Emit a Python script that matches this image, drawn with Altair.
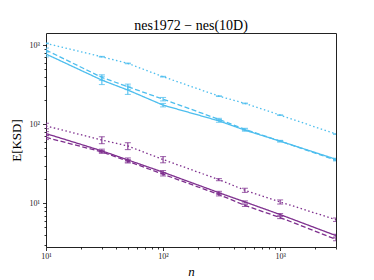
import altair as alt
import pandas as pd

# ---- data ----
n_values = [10, 30, 50, 100, 300, 500, 1000, 3000]

blue_solid = [770, 360, 270, 174, 110, 84, 61, 36]
blue_dashed = [865, 390, 297, 207, 115, 86, 61, 35]
blue_dotted = [1050, 711, 586, 398, 226, 183, 130, 75]
purple_solid = [76, 46, 35.3, 24.7, 13.6, 10.4, 7.2, 3.9]
purple_dashed = [68, 44.6, 34, 23.3, 12.9, 9.4, 6.6, 3.5]
purple_dotted = [95, 63, 53, 35.7, 19.9, 14.6, 10.4, 6.2]

# relative half-widths of the error bars
blue_solid_err = [0.08, 0.12, 0.12, 0.05, 0.04, 0.03, 0.02, 0.03]
blue_dashed_err = [0.06, 0.08, 0.08, 0.05, 0.03, 0.03, 0.02, 0.02]
blue_dotted_err = [0.01, 0.01, 0.01, 0.01, 0.01, 0.01, 0.01, 0.01]
purple_solid_err = [0.06, 0.05, 0.06, 0.05, 0.04, 0.03, 0.03, 0.04]
purple_dashed_err = [0.06, 0.04, 0.05, 0.05, 0.04, 0.03, 0.03, 0.04]
purple_dotted_err = [0.08, 0.10, 0.10, 0.09, 0.03, 0.06, 0.06, 0.05]

series = [
    ("blue", "solid", blue_solid, blue_solid_err),
    ("blue", "dashed", blue_dashed, blue_dashed_err),
    ("blue", "dotted", blue_dotted, blue_dotted_err),
    ("purple", "solid", purple_solid, purple_solid_err),
    ("purple", "dashed", purple_dashed, purple_dashed_err),
    ("purple", "dotted", purple_dotted, purple_dotted_err),
]

rows = []
for grp, style, vals, errs in series:
    for n, v, e in zip(n_values, vals, errs):
        rows.append({"group": grp, "style": style, "series": grp + "-" + style,
                     "n": n, "v": v, "lo": v * (1 - e), "hi": v * (1 + e)})
df = pd.DataFrame(rows)

FONT = "Liberation Serif"
colors = alt.Scale(domain=["blue", "purple"], range=["#4DBEEE", "#7E2F8E"])
dashes = alt.Scale(domain=["solid", "dashed", "dotted"],
                   range=[[1, 0], [5, 2.5], [1.5, 2.5]])

x_ticks = [10, 20, 30, 40, 50, 60, 70, 80, 90, 100, 200, 300, 400, 500, 600,
           700, 800, 900, 1000, 2000, 3000]
y_ticks = [3, 4, 5, 6, 7, 8, 9, 10, 20, 30, 40, 50, 60, 70, 80, 90, 100, 200,
           300, 400, 500, 600, 700, 800, 900, 1000]

label_expr = ("datum.value == 10 ? '10¹' : datum.value == 100 ? '10²' : "
              "datum.value == 1000 ? '10³' : ''")
major_test = "abs(log(datum.value)/LN10 - round(log(datum.value)/LN10)) < 1e-6"

x_axis = alt.Axis(values=x_ticks, labelExpr=label_expr, grid=False, domain=False,
                  tickSize={"condition": {"test": major_test, "value": 3.5}, "value": 2},
                  tickColor="#000", tickWidth=0.8, labelFont=FONT, labelFontSize=8,
                  labelColor="#222", labelPadding=2, labelFlush=False,
                  title="n", titleFont=FONT, titleFontSize=13, titleFontStyle="italic",
                  titleFontWeight="normal", titleColor="#000", titlePadding=5)
y_axis = alt.Axis(values=y_ticks, labelExpr=label_expr, grid=False, domain=False,
                  tickSize={"condition": {"test": major_test, "value": 3.5}, "value": 2},
                  tickColor="#000", tickWidth=0.8, labelFont=FONT, labelFontSize=8,
                  labelColor="#222", labelPadding=3, labelFlush=False,
                  title="E[KSD]", titleFont=FONT, titleFontSize=13,
                  titleFontWeight="normal", titleColor="#000", titlePadding=6)

x_enc = alt.X("n:Q", scale=alt.Scale(type="log", domain=[10, 3000], nice=False),
              axis=x_axis)
y_scale = alt.Scale(type="log", domain=[2.8, 1420], nice=False)

base = alt.Chart(df)

lines = base.mark_line(strokeWidth=1.3, clip=True).encode(
    x=x_enc,
    y=alt.Y("v:Q", scale=y_scale, axis=y_axis),
    color=alt.Color("group:N", scale=colors, legend=None),
    strokeDash=alt.StrokeDash("style:N", scale=dashes, legend=None),
    detail="series:N",
)

err_rules = base.mark_rule(strokeWidth=1.1, clip=True).encode(
    x="n:Q",
    y=alt.Y("lo:Q", scale=y_scale),
    y2="hi:Q",
    color=alt.Color("group:N", scale=colors, legend=None),
)

caps_lo = base.mark_tick(orient="horizontal", size=6, thickness=1.1, clip=True).encode(
    x="n:Q",
    y=alt.Y("lo:Q", scale=y_scale),
    color=alt.Color("group:N", scale=colors, legend=None),
)
caps_hi = base.mark_tick(orient="horizontal", size=6, thickness=1.1, clip=True).encode(
    x="n:Q",
    y=alt.Y("hi:Q", scale=y_scale),
    color=alt.Color("group:N", scale=colors, legend=None),
)

chart = alt.layer(lines, err_rules, caps_lo, caps_hi).properties(
    width=290,
    height=214,
    title=alt.TitleParams("nes1972 − nes(10D)", font=FONT, fontSize=14,
                          fontWeight="normal", color="#000", anchor="middle",
                          offset=4, dy=4),
    autosize=alt.AutoSizeParams(type="none"),
    padding={"left": 38, "top": 25, "right": 30, "bottom": 33},
    background="white",
).configure_view(stroke="#222", strokeWidth=1)

chart.save("out.html", embed_options={"renderer": "svg", "actions": False})
